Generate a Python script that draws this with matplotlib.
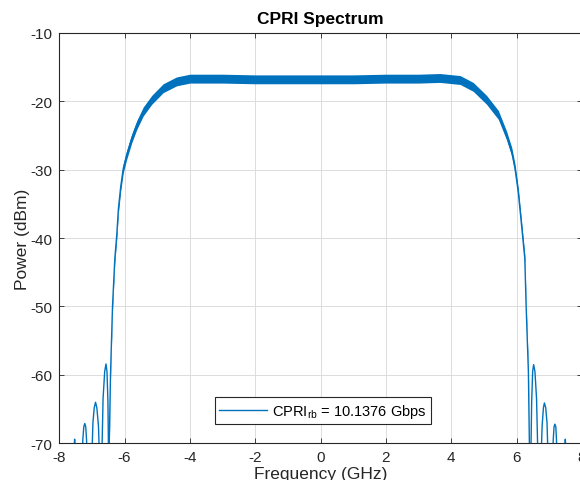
import numpy as np
import matplotlib
matplotlib.use("Agg")
import matplotlib.pyplot as plt

plt.rcParams['font.family'] = 'Liberation Sans'
plt.rcParams['mathtext.fontset'] = 'custom'
plt.rcParams['mathtext.rm'] = 'Liberation Sans'
plt.rcParams['mathtext.it'] = 'Liberation Sans:italic'
plt.rcParams['axes.unicode_minus'] = False

# main lobe, centre of the noisy trace (GHz, dBm)
main_freq = [-6.52, -6.47, -6.43, -6.37, -6.30, -6.24, -6.19, -6.12, -6.04, -5.94,
             -5.78, -5.63, -5.43, -5.17, -4.82, -4.41, -4.00, -3.00, -2.00, -1.00,
             0.00, 1.00, 2.00, 3.00, 3.65, 4.27, 4.67, 5.08, 5.44, 5.69,
             5.85, 5.95, 6.05, 6.15, 6.25, 6.29, 6.36, 6.39, 6.43]
main_power = [-80, -70.0, -59.6, -49.9, -43.0, -39.5, -35.7, -32.5, -29.8, -27.9,
              -25.4, -23.5, -21.5, -19.8, -18.1, -17.1, -16.7, -16.7, -16.8, -16.8,
              -16.8, -16.8, -16.7, -16.7, -16.6, -16.9, -17.9, -19.8, -22.0, -25.0,
              -27.4, -29.8, -33.3, -38.1, -43.0, -49.9, -59.6, -70.0, -80]
noise_db = 0.65  # half spread of the noise band on the trace

# side lobes
lobe_freq = [
    [-7.57, -7.545, -7.53, -7.515, -7.49],
    [-7.31, -7.28, -7.25, -7.22, -7.19, -7.165, -7.13],
    [-7.02, -6.97, -6.93, -6.89, -6.85, -6.80, -6.75],
    [-6.71, -6.66, -6.61, -6.57, -6.54, -6.51, -6.485],
    [6.425, 6.46, 6.49, 6.52, 6.56, 6.61, 6.665],
    [6.73, 6.78, 6.82, 6.85, 6.89, 6.93, 6.98],
    [7.09, 7.12, 7.145, 7.17, 7.20, 7.22, 7.25],
    [7.46, 7.475, 7.49, 7.505, 7.53],
]
lobe_power = [
    [-75, -70.5, -69.4, -70.5, -75],
    [-75, -69.5, -67.6, -67.1, -67.6, -69.5, -75],
    [-75, -67.0, -64.8, -64.0, -64.8, -67.5, -75],
    [-75, -63.5, -59.5, -58.4, -59.5, -64.0, -75],
    [-75, -64.0, -59.5, -58.5, -59.5, -63.5, -75],
    [-75, -67.5, -64.8, -64.1, -64.8, -67.0, -75],
    [-75, -69.5, -67.6, -67.2, -67.6, -69.5, -75],
    [-75, -70.5, -69.4, -70.5, -75],
]

blue = '#0072BD'
dark = '#262626'

fig = plt.figure(figsize=(5.8, 4.81), dpi=100)
ax = fig.add_axes([0.1022, 0.0763, 0.9012, 0.8534])

f = np.array(main_freq)
p = np.array(main_power)
ax.fill_between(f, p - noise_db, p + noise_db, color=blue, lw=0, zorder=3)
line, = ax.plot(f, p, color=blue, lw=1.0, zorder=3,
                label=r'CPRI$_{\mathrm{rb}}$ = 10.1376 Gbps')
for lf, lp in zip(lobe_freq, lobe_power):
    ax.plot(lf, lp, color=blue, lw=1.0, zorder=3)

ax.set_xlim(-8, 8)
ax.set_ylim(-70, -10)
ax.set_xticks(np.arange(-8, 9, 2))
ax.set_yticks(np.arange(-70, -9, 10))
ax.grid(True, color='#dcdcdc', lw=0.7)
ax.set_axisbelow(True)
for s in ax.spines.values():
    s.set_color(dark)
    s.set_linewidth(0.8)
ax.tick_params(direction='in', top=True, right=True, length=3.5, width=0.6,
               colors=dark, labelsize=11, pad=5)

ax.set_title('CPRI Spectrum', fontsize=12.5, fontweight='bold', color='black', pad=7)
ax.set_xlabel('Frequency (GHz)', fontsize=12.5, color=dark, labelpad=1)
ax.set_ylabel('Power (dBm)', fontsize=12.5, color=dark, labelpad=0)

leg = ax.legend(handles=[line], loc='center', bbox_to_anchor=(0.5045, 0.0795),
                fontsize=10.5, handlelength=3.3, handletextpad=0.35,
                borderpad=0.3, fancybox=False, framealpha=1)
leg.get_frame().set_edgecolor(dark)
leg.get_frame().set_linewidth(0.8)

fig.savefig('out.png', dpi=100)
